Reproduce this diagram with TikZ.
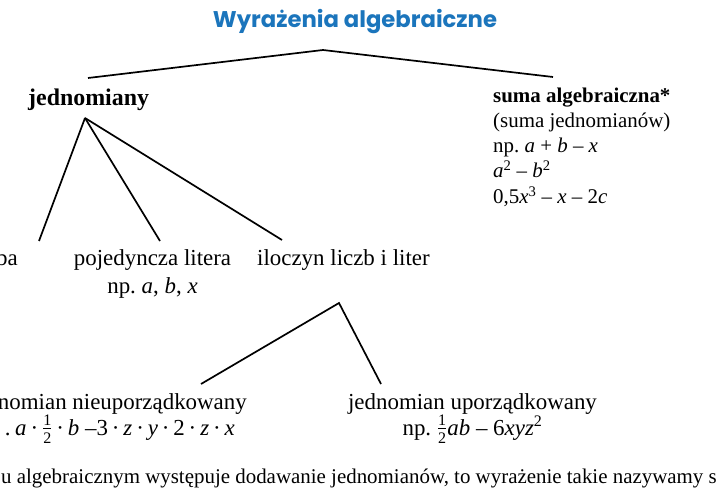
\documentclass[tikz,border=0pt]{standalone}
\usepackage{amsmath}
\usepackage{fontspec}
\setmainfont{Liberation Serif}
\newfontfamily\titlefont{Poppins}
\definecolor{titleblue}{HTML}{1B75BC}
\newcommand\sfr[2]{$\frac{\text{#1}}{\text{#2}}$}
\newcommand\cd{\hspace{0.17em}·\hspace{0.17em}}
\frenchspacing
\tikzset{
  lbl/.style={inner sep=0pt, font=\fontsize{23}{27}\selectfont},
  rlbl/.style={inner sep=0pt, font=\fontsize{21}{25}\selectfont},
  headlbl/.style={inner sep=0pt, font=\fontsize{24}{28}\selectfont\bfseries},
  rhead/.style={inner sep=0pt, font=\fontsize{21}{25}\selectfont\bfseries},
  footlbl/.style={inner sep=0pt, font=\fontsize{21}{25}\selectfont},
  titlelbl/.style={inner sep=0pt, text=titleblue, font=\fontsize{22.8}{26}\selectfont\titlefont\bfseries},
  branch/.style={line width=1.7bp, line join=miter},
}
\begin{document}
\begin{tikzpicture}[x=1bp,y=-1bp]
\useasboundingbox (0,0) rectangle (720,500);
\fill[white] (0,0) rectangle (720,500);
% title
\node[titlelbl, anchor=base] (title) at (355,28) {Wyrażenia algebraiczne};
% level 1
\coordinate (root) at (323,50);
\coordinate (jedtop) at (88,78);
\coordinate (sumtop) at (553,77);
\draw[branch] (jedtop) -- (root) -- (sumtop);
\node[headlbl, anchor=base west] (jed) at (28,106) {jednomiany};
\node[rhead, anchor=base west] (suma) at (493,102.5) {suma algebraiczna*};
\node[rlbl, anchor=base west] (suma2) at (493,127.5) {(suma jednomianów)};
\node[rlbl, anchor=base west] (suma3) at (493,152.8) {np. \textit{a} + \textit{b} – \textit{x}};
\node[rlbl, anchor=base west] (suma4) at (493,178) {\textit{a}\textsuperscript{2} – \textit{b}\textsuperscript{2}};
\node[rlbl, anchor=base west] (suma5) at (493,203.5) {0,5\textit{x}\textsuperscript{3} – \textit{x} – 2\textit{c}};
% level 2
\coordinate (jedbot) at (85,118);
\coordinate (c1) at (39,241);
\coordinate (c2) at (160,241);
\coordinate (c3) at (282,240);
\draw[branch] (jedbot) -- (c1);
\draw[branch] (jedbot) -- (c2);
\draw[branch] (jedbot) -- (c3);
\node[lbl, anchor=base east] (liczba) at (18,266) {ba};
\node[lbl, anchor=base] (litera) at (152.5,266) {pojedyncza litera};
\node[lbl, anchor=base] (litera2) at (152.5,293) {np. \textit{a}, \textit{b}, \textit{x}};
\node[lbl, anchor=base west] (iloczyn) at (257,266) {iloczyn liczb i liter};
% level 3
\coordinate (ilbot) at (339,303);
\coordinate (d1) at (201,384);
\coordinate (d2) at (381,384);
\draw[branch] (d1) -- (ilbot) -- (d2);
\node[lbl, anchor=base east] (nieup) at (247,409) {nomian nieuporządkowany};
\node[lbl, anchor=base east] (nieup2) at (235,435) {.\hspace{0.2em}\textit{a}\cd\sfr{1}{2}\cd\textit{b} –3\cd\textit{z}\cd\textit{y}\cd 2\cd\textit{z}\cd\textit{x}};
\node[lbl, anchor=base] (up) at (472.5,409) {jednomian uporządkowany};
\node[lbl, anchor=base] (up2) at (472.5,435) {np. \sfr{1}{2}\textit{ab} – 6\textit{xyz}\textsuperscript{2}};
% footer
\node[footlbl, anchor=base west] (foot) at (1,483) {u algebraicznym występuje dodawanie jednomianów, to wyrażenie takie nazywamy s};
\end{tikzpicture}
\end{document}
